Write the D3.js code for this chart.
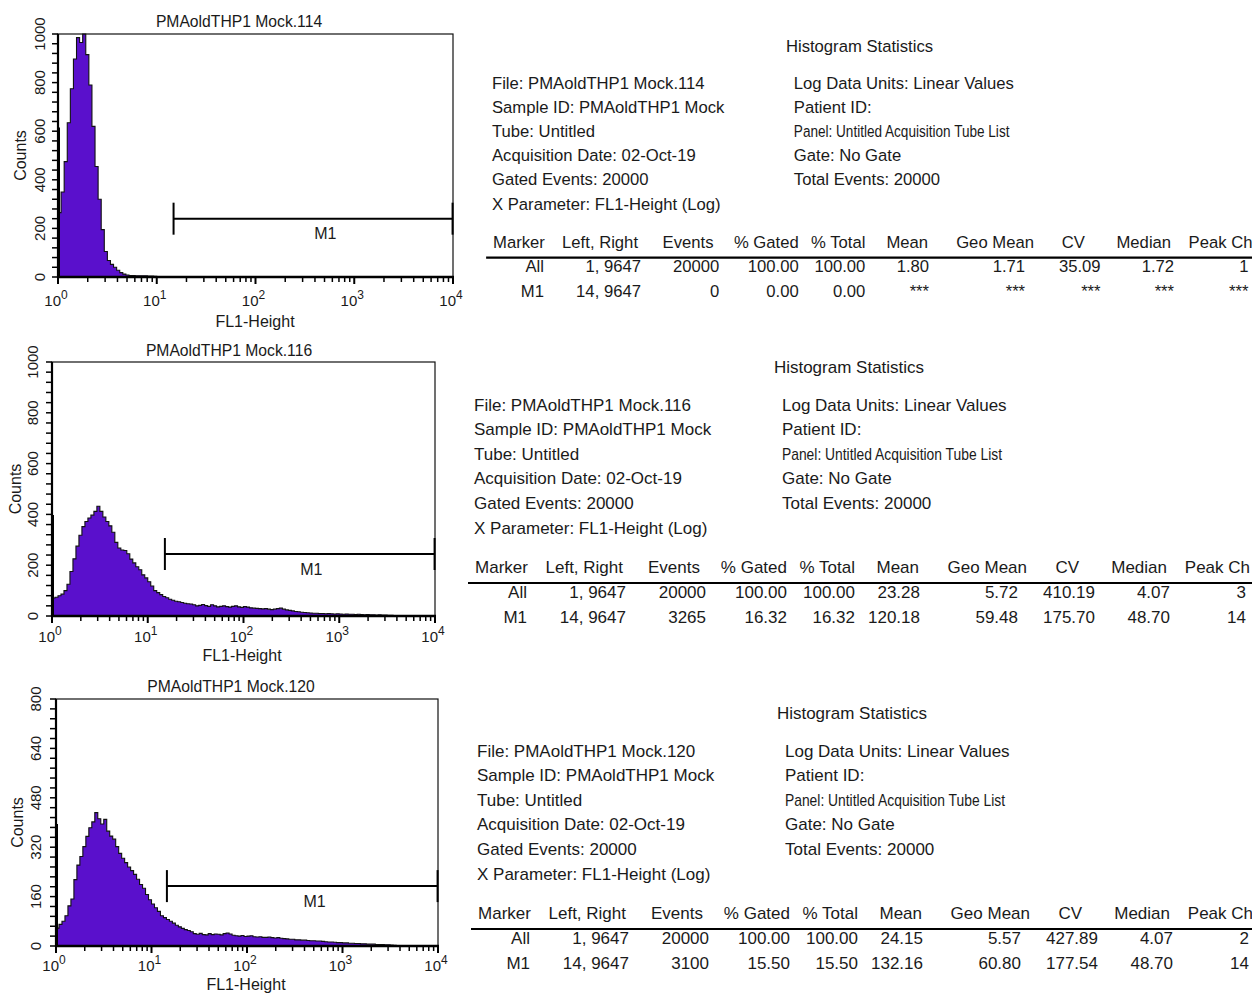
<!DOCTYPE html>
<html><head><meta charset="utf-8">
<script src="https://cdn.jsdelivr.net/npm/d3@7"></script>
<style>
body{margin:0;background:#fff}
text{font-family:"Liberation Sans",Arial,Helvetica,sans-serif;fill:#1a1a1a}
</style>
</head><body>
<svg id="c" width="1252" height="993"></svg>
<script>
// ---------------- data ----------------
const titles = ["PMAoldTHP1 Mock.114", "PMAoldTHP1 Mock.116", "PMAoldTHP1 Mock.120"];
const yMax = [1000, 1000, 800];
const yTicks = [[0,200,400,600,800,1000],[0,200,400,600,800,1000],[0,160,320,480,640,800]];
const xTickExp = [0, 1, 2, 3, 4];
const binsPerDecade = 32;               // channel resolution of the histograms below
const spikeCounts = [615, 398, 395];    // first-channel pile-up
const markerRange = [[14.8, 9900], [15.1, 9900], [14.5, 9900]];
const markerLevel = [240, 244, 194];
const markerLabelAt = 510;

const counts114 = [265,350,475,635,775,897,985,965,1000,915,790,620,455,320,195,105,68,52,40,28,18,12,8,6,6,5,5,5,5,4,4,3,2,2,1,1];
const counts116 = [71,74,80,86,100,125,175,225,275,318,
  352,372,386,397,412,432,412,390,372,355,
  330,290,268,260,258,245,224,209,194,182,
  162,150,135,118,100,92,84,77,72,66,
  62,58,56,53,50,48,47,44,40,42,
  45,41,38,44,40,36,38,40,37,35,
  38,40,36,34,37,35,32,31,30,29,
  28,29,27,25,27,29,31,27,24,22,
  20,18,17,15,14,13,12,11,11,10,
  10,9,10,9,8,9,8,7,8,7,
  7,6,7,6,5,6,5,5,4,5,
  4,4,3,3,2,1];
const counts120 = [58,70,80,98,130,152,215,262,290,322,
  355,383,402,432,412,395,410,372,356,346,
  322,300,284,270,256,244,232,216,199,187,
  167,150,136,124,112,98,92,86,80,74,
  67,62,57,53,50,46,40,38,41,37,
  36,40,37,39,38,36,40,42,39,35,
  33,32,34,31,32,33,30,29,30,28,
  28,29,27,26,27,25,24,23,22,22,
  20,20,19,19,18,17,17,16,16,15,
  14,13,13,12,11,11,10,10,9,9,
  8,8,7,7,6,6,6,5,5,5,
  4,4,3,2,1];
const allCounts = [counts114, counts116, counts120];

const infoLeftLabels = ["File: ", "Sample ID: ", "Tube: ", "Acquisition Date: ", "Gated Events: ", "X Parameter: "];
const infoLeftValues = [
  ["PMAoldTHP1 Mock.114", "PMAoldTHP1 Mock", "Untitled", "02-Oct-19", "20000", "FL1-Height (Log)"],
  ["PMAoldTHP1 Mock.116", "PMAoldTHP1 Mock", "Untitled", "02-Oct-19", "20000", "FL1-Height (Log)"],
  ["PMAoldTHP1 Mock.120", "PMAoldTHP1 Mock", "Untitled", "02-Oct-19", "20000", "FL1-Height (Log)"]
];
const infoRight = ["Log Data Units: Linear Values", "Patient ID:", "Panel: Untitled Acquisition Tube List", "Gate: No Gate", "Total Events: 20000"];
const statsHeaders = ["Marker", "Left, Right", "Events", "% Gated", "% Total", "Mean", "Geo Mean", "CV", "Median", "Peak Ch"];
const statsRows = [
  [["All","1, 9647","20000","100.00","100.00","1.80","1.71","35.09","1.72","1"],
   ["M1","14, 9647","0","0.00","0.00","***","***","***","***","***"]],
  [["All","1, 9647","20000","100.00","100.00","23.28","5.72","410.19","4.07","3"],
   ["M1","14, 9647","3265","16.32","16.32","120.18","59.48","175.70","48.70","14"]],
  [["All","1, 9647","20000","100.00","100.00","24.15","5.57","427.89","4.07","2"],
   ["M1","14, 9647","3100","15.50","15.50","132.16","60.80","177.54","48.70","14"]]
];

// ---------------- layout ----------------
const layouts = [
  {x0:58, x1:453, top:34,  bottom:277, titleX:239, titleY:22,  yLabX:40, countsX:20, xLabY:301, flX:255, flY:321},
  {x0:52, x1:435, top:362, bottom:616, titleX:229, titleY:351, yLabX:33, countsX:15, xLabY:637, flX:242, flY:655},
  {x0:56, x1:438, top:699, bottom:946, titleX:231, titleY:687, yLabX:36, countsX:17, xLabY:966, flX:246, flY:984}
];
const statsPos = [{x:492, y:46, s:0.98}, {x:474, y:367, s:1}, {x:477, y:713, s:1}];
const headerEnd = [54, 149, 226, 313, 381, 445, 553, 605, 693, 776];
const colRight  = [53, 152, 232, 313, 381, 446, 544, 621, 696, 772];

const svg = d3.select("#c");
const PURPLE = "#5a10cc";

layouts.forEach((L, p) => {
  const g = svg.append("g");
  const x = d3.scaleLog().domain([1, 10000]).range([L.x0, L.x1]);
  const y = d3.scaleLinear().domain([0, yMax[p]]).range([L.bottom, L.top]);
  const counts = allCounts[p];
  const pts = counts.map((c, i) => ({v: Math.pow(10, i / binsPerDecade), c}));
  pts.push({v: Math.pow(10, counts.length / binsPerDecade), c: 0});

  const area = d3.area().curve(d3.curveStepAfter).x(d => x(d.v)).y0(L.bottom).y1(d => y(d.c));
  const line = d3.line().curve(d3.curveStepAfter).x(d => x(d.v)).y(d => y(d.c));
  g.append("path").attr("d", area(pts)).attr("fill", PURPLE);
  g.append("path").attr("d", line(pts)).attr("fill", "none").attr("stroke", "#111").attr("stroke-width", 1.1);

  // spike at first channel
  g.append("line").attr("x1", x(1) + 1).attr("x2", x(1) + 1)
    .attr("y1", L.bottom).attr("y2", y(spikeCounts[p])).attr("stroke", "#000").attr("stroke-width", 2);

  // frame
  g.append("rect").attr("x", L.x0).attr("y", L.top).attr("width", L.x1 - L.x0).attr("height", L.bottom - L.top)
    .attr("fill", "none").attr("stroke", "#111").attr("stroke-width", 1.2);
  g.append("line").attr("x1", L.x0).attr("x2", L.x0).attr("y1", L.top).attr("y2", L.bottom + 1)
    .attr("stroke", "#000").attr("stroke-width", 2.2);
  g.append("line").attr("x1", L.x0 - 1).attr("x2", L.x1 + 1).attr("y1", L.bottom).attr("y2", L.bottom)
    .attr("stroke", "#000").attr("stroke-width", 2.4);

  // y ticks
  const step = yMax[p] / 25;
  const yMinor = d3.range(0, yMax[p] + step / 2, step);
  g.selectAll(".ym").data(yMinor).join("line")
    .attr("x1", L.x0 - 6).attr("x2", L.x0).attr("y1", d => y(d)).attr("y2", d => y(d))
    .attr("stroke", "#000").attr("stroke-width", 1.5);
  g.selectAll(".yl").data(yTicks[p]).join("text")
    .attr("transform", d => `translate(${L.yLabX},${y(d)}) rotate(-90)`)
    .attr("text-anchor", "middle").attr("dy", "0.35em").attr("font-size", 15).text(d => d);
  g.append("text").attr("transform", `translate(${L.countsX},${(L.top + L.bottom) / 2}) rotate(-90)`)
    .attr("text-anchor", "middle").attr("dy", "0.35em").attr("font-size", 16).text("Counts");

  // x ticks
  const xMinor = [];
  for (let d = 0; d < 4; d++) for (let m = 2; m <= 9; m++) xMinor.push(m * Math.pow(10, d));
  g.selectAll(".xm").data(xMinor).join("line")
    .attr("x1", d => x(d)).attr("x2", d => x(d)).attr("y1", L.bottom).attr("y2", L.bottom + 5)
    .attr("stroke", "#000").attr("stroke-width", 1.5);
  g.selectAll(".xM").data(xTickExp).join("line")
    .attr("x1", d => x(Math.pow(10, d))).attr("x2", d => x(Math.pow(10, d)))
    .attr("y1", L.bottom).attr("y2", L.bottom + 7).attr("stroke", "#000").attr("stroke-width", 2);
  const xl = g.selectAll(".xl").data(xTickExp).join("text")
    .attr("x", d => x(Math.pow(10, d)) - 2).attr("y", L.xLabY).attr("dy", "0.35em")
    .attr("text-anchor", "middle").attr("font-size", 15);
  xl.append("tspan").text("10");
  xl.append("tspan").attr("dy", -7).attr("font-size", 12).text(d => d);
  g.append("text").attr("x", L.flX).attr("y", L.flY).attr("dy", "0.35em").attr("text-anchor", "middle")
    .attr("font-size", 16).text("FL1-Height");

  // title
  g.append("text").attr("x", L.titleX).attr("y", L.titleY).attr("dy", "0.35em").attr("text-anchor", "middle")
    .attr("font-size", 15.7).text(titles[p]);

  // marker M1
  const my = y(markerLevel[p]);
  const mx0 = x(markerRange[p][0]), mx1 = x(markerRange[p][1]);
  g.append("line").attr("x1", mx0).attr("x2", mx1).attr("y1", my).attr("y2", my).attr("stroke", "#000").attr("stroke-width", 2);
  [mx0, mx1].forEach(mx => g.append("line").attr("x1", mx).attr("x2", mx).attr("y1", my - 16).attr("y2", my + 16)
    .attr("stroke", "#000").attr("stroke-width", 2));
  g.append("text").attr("x", x(markerLabelAt)).attr("y", my + 15).attr("dy", "0.35em").attr("text-anchor", "middle")
    .attr("font-size", 16).text("M1");

  // statistics block
  const S = statsPos[p];
  const sg = svg.append("g").attr("transform", `translate(${S.x},${S.y}) scale(${S.s})`).attr("font-size", 17);
  sg.append("text").attr("x", 375).attr("y", 0).attr("dy", "0.35em").attr("text-anchor", "middle").text("Histogram Statistics");
  const leftY = [38, 62, 87, 111, 136, 161];
  infoLeftLabels.forEach((lab, i) => sg.append("text").attr("x", 0).attr("y", leftY[i]).attr("dy", "0.35em")
    .text(lab + infoLeftValues[p][i]));
  infoRight.forEach((t, i) => {
    const tx = sg.append("text").attr("x", 308).attr("y", leftY[i]).attr("dy", "0.35em").text(t);
    if (t.startsWith("Panel")) tx.attr("textLength", 220).attr("lengthAdjust", "spacingAndGlyphs");
  });
  statsHeaders.forEach((h, i) => sg.append("text").attr("x", headerEnd[i]).attr("y", 200).attr("dy", "0.35em")
    .attr("text-anchor", "end").text(h));
  sg.append("line").attr("x1", -6).attr("x2", 800).attr("y1", 216).attr("y2", 216).attr("stroke", "#000").attr("stroke-width", 2.2);
  statsRows[p].forEach((row, r) => row.forEach((v, i) => sg.append("text").attr("x", colRight[i]).attr("y", 225 + r * 25)
    .attr("dy", "0.35em").attr("text-anchor", "end").text(v)));
});
</script>
</body></html>
